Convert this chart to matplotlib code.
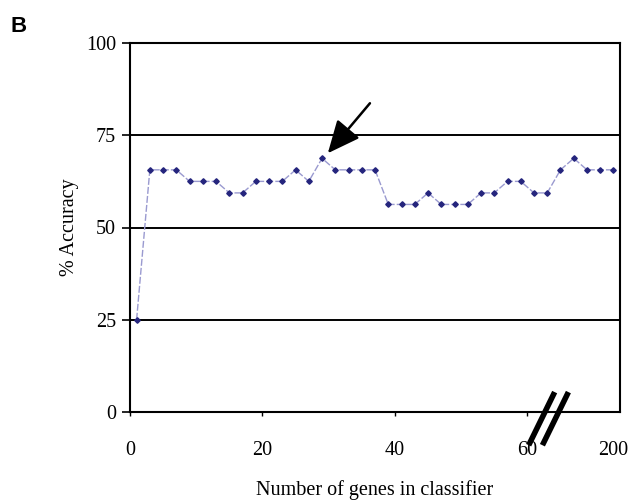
import matplotlib
matplotlib.use("Agg")
import matplotlib.pyplot as plt

# genes in classifier (plotted positions) and accuracy (%)
genes = list(range(1, 75, 2))
accuracy = [25.0, 65.625, 65.625, 65.625, 62.5, 62.5, 62.5, 59.375, 59.375,
            62.5, 62.5, 62.5, 65.625, 62.5, 68.75, 65.625, 65.625, 65.625,
            65.625, 56.25, 56.25, 56.25, 59.375, 56.25, 56.25, 56.25,
            59.375, 59.375, 62.5, 62.5, 59.375, 59.375, 65.625, 68.75,
            65.625, 65.625, 65.625]
xtick_pos = [0, 20, 40, 60, 73]
xtick_labels = ["0", "20", "40", "60", "200"]
yticks = [0, 25, 50, 75, 100]
best_x, best_y = 29, 68.75

plt.rcParams["font.family"] = ["Liberation Serif", "DejaVu Serif"]

fig = plt.figure(figsize=(6.3, 5.0), dpi=100)
ax = fig.add_axes([0.2063, 0.176, 0.778, 0.738])

for y in yticks[1:-1]:
    ax.axhline(y, color="black", lw=1.4, zorder=1)

ax.plot(genes, accuracy, color="#9a9ad0", lw=1.0, dashes=(5, 1.5), zorder=2)
ax.plot(genes, accuracy, ls="none", marker="D", ms=2.8, color="#25257d", zorder=3)

ax.set_xlim(0, 74)
ax.set_ylim(0, 100)
ax.set_xticks(xtick_pos)
ax.set_xticklabels(xtick_labels)
ax.set_yticks(yticks)
ax.tick_params(axis="y", direction="out", length=6, width=1.2, pad=4, labelsize=14.5)
ax.tick_params(axis="x", direction="out", length=3, width=1.0, pad=18, labelsize=14.5)
ax.xaxis.get_major_ticks()[-1].tick1line.set_visible(False)
for s in ax.spines.values():
    s.set_linewidth(1.5)

ax.set_xlabel("Number of genes in classifier", fontsize=14.5, labelpad=14)
ax.set_ylabel("% Accuracy", fontsize=14.5, labelpad=5)

# arrow pointing to best classifier
ax.annotate("", xy=(best_x + 0.6, best_y + 0.8), xytext=(best_x + 7.5, best_y + 15.5),
            arrowprops=dict(arrowstyle="-|>,head_length=2.0,head_width=0.9",
                            color="black", lw=1.8), zorder=4)

# axis break marks
for dx in (0.0, 0.028):
    ax.plot([0.8135 + dx, 0.8665 + dx], [-0.09, 0.054], color="black", lw=4,
            transform=ax.transAxes, clip_on=False, solid_capstyle="butt", zorder=5)

fig.text(0.016, 0.935, "B", fontsize=16, fontweight="bold",
         family=["Liberation Sans", "DejaVu Sans"])

fig.savefig("out.png", dpi=100)
